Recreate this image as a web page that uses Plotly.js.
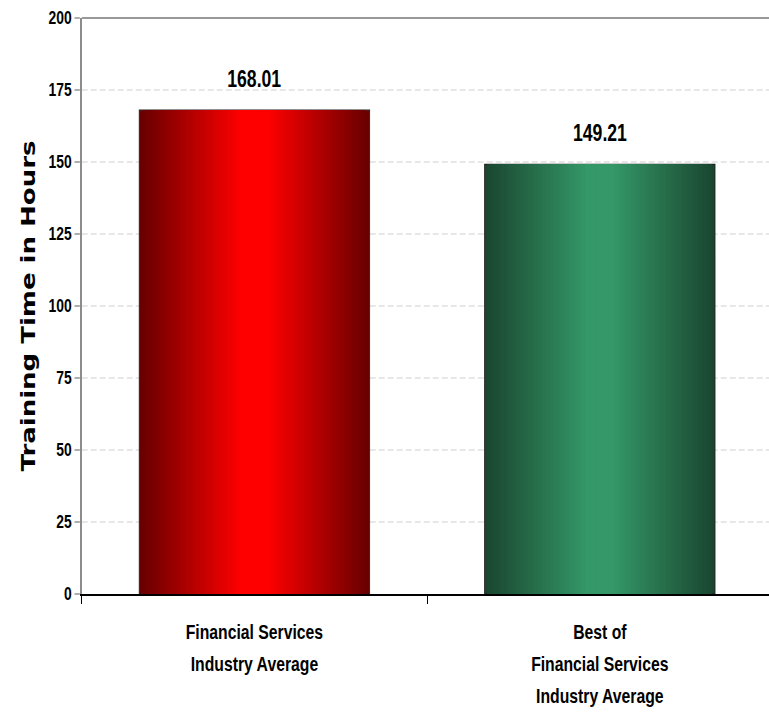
<!DOCTYPE html>
<html>
<head>
<meta charset="utf-8">
<script src="https://cdn.plot.ly/plotly-3.0.1.min.js"></script>
<style>
  html, body { margin: 0; padding: 0; overflow: hidden; background: #ffffff; width: 769px; height: 713px; }
  /* the reference artwork is horizontally condensed; squeeze the whole drawing the same way */
  #chart { width: 1030px; height: 713px; transform: scaleX(0.75); transform-origin: 0 0; }
</style>
</head>
<body>
<div id="chart"></div>
<script>
// ---- data ----
const categories = ["Financial Services Industry Average", "Best of Financial Services Industry Average"];
const categoryLines = [
  ["Financial Services", "Industry Average"],
  ["Best of", "Financial Services", "Industry Average"]
];
const values = [168.01, 149.21];
const yTicks = [0, 25, 50, 75, 100, 125, 150, 175, 200];
const yTitle = "Training Time in Hours";

// ---- styles ----
const SANS = "'Liberation Sans', Arial, sans-serif";
const brightColors = [[255, 0, 0], [52, 152, 104]];
const darkColors = [[104, 0, 0], [26, 70, 48]];
const barWidth = 0.667;
const STEPS = 40;

function mix(a, b, s) {
  return "rgb(" + a.map((v, i) => Math.round(v + (b[i] - v) * s)).join(",") + ")";
}

const traces = [];
for (let k = 0; k < STEPS; k++) {
  const frac = 1 - k / STEPS;
  let s = (frac - 0.12) / 0.88;
  s = Math.max(0, Math.min(1, s));
  traces.push({
    type: "bar",
    x: categories,
    y: values,
    width: categories.map(() => barWidth * frac),
    marker: {
      color: categories.map((c, i) => mix(brightColors[i], darkColors[i], s)),
      line: { color: "#222222", width: k === 0 ? 1.2 : 0 }
    },
    hoverinfo: "skip",
    showlegend: false
  });
}

const tickText = categoryLines.map(lines =>
  lines.map(l => "<span style='font-size:21px'>" + l + "</span>").join("<br>")
);

const annotations = categories.map((c, i) => ({
  x: c,
  y: values[i],
  xref: "x",
  yref: "y",
  text: values[i].toFixed(2),
  showarrow: false,
  yanchor: "bottom",
  yshift: 16,
  font: { family: SANS, size: 23.5, color: "#000000", weight: "bold" }
}));

const layout = {
  width: 1030,
  height: 713,
  margin: { l: 109, r: 0, t: 18, b: 119, pad: 0 },
  paper_bgcolor: "#ffffff",
  plot_bgcolor: "#ffffff",
  barmode: "overlay",
  showlegend: false,
  xaxis: {
    type: "category",
    range: [-0.5, 1.5],
    tickvals: categories,
    ticktext: tickText,
    tickson: "boundaries",
    ticks: "outside",
    ticklen: 8,
    tickwidth: 1.4,
    tickcolor: "#000000",
    showline: true,
    linecolor: "#000000",
    linewidth: 1.5,
    showgrid: false,
    zeroline: false,
    ticklabelstandoff: 14,
    tickfont: { family: SANS, size: 24.6, color: "#000000", weight: "bold" },
    automargin: false
  },
  yaxis: {
    range: [0, 200],
    tickvals: yTicks,
    ticktext: yTicks.map(String),
    ticks: "outside",
    ticklen: 7,
    tickwidth: 1,
    tickcolor: "#444444",
    showline: true,
    linecolor: "#8c8c8c",
    linewidth: 2.6,
    showgrid: true,
    gridcolor: "#c8c8c8",
    gridwidth: 1,
    griddash: "8px,4px",
    zeroline: false,
    tickfont: { family: SANS, size: 18.5, color: "#000000", weight: "bold" },
    title: {
      text: yTitle,
      font: { family: "'DejaVu Sans', sans-serif", size: 26, color: "#000000", weight: "bold" },
      standoff: 10
    },
    automargin: false
  },
  shapes: [{
    type: "line", xref: "paper", yref: "paper",
    x0: 0, x1: 1, y0: 1, y1: 1,
    line: { color: "#999999", width: 2 }
  }],
  annotations: annotations
};

Plotly.newPlot("chart", traces, layout, { displayModeBar: false, staticPlot: true });
</script>
</body>
</html>
